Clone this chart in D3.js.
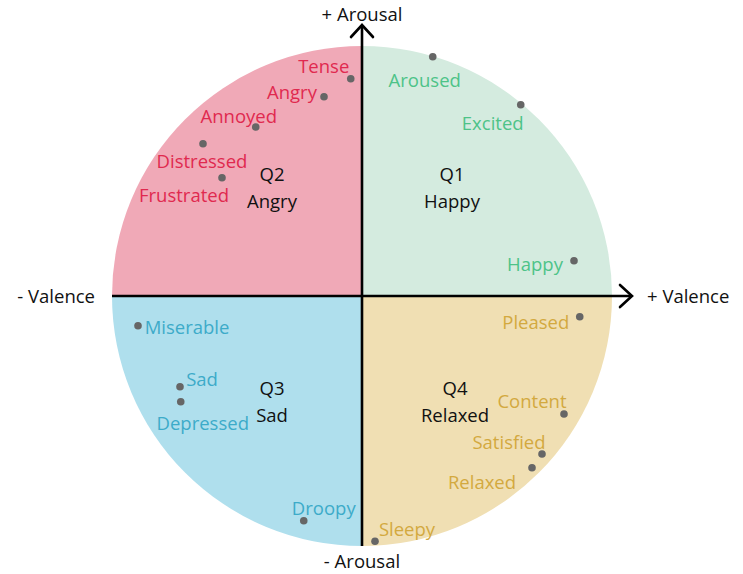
<!DOCTYPE html>
<html>
<head>
<meta charset="utf-8">
<script src="https://cdn.jsdelivr.net/npm/d3@7"></script>
<style>
  html, body { margin: 0; padding: 0; background: #ffffff; }
  svg { display: block; }
  text { font-family: "Open Sans", "Lato", sans-serif; }
</style>
</head>
<body>
<svg id="chart" width="743" height="574"></svg>
<script>
// ---- Data ----
const quadrants = ["Q1", "Q2", "Q3", "Q4"];
const quadrantNames = ["Happy", "Angry", "Sad", "Relaxed"];
const quadrantFills = ["#d4ebdf", "#f0a9b7", "#afdfed", "#f0dfb3"];
const quadrantText = ["#4dc388", "#e0294f", "#3dabc9", "#d3a93f"];

const emotions = ["Aroused", "Excited", "Happy",
                  "Tense", "Angry", "Annoyed", "Distressed", "Frustrated",
                  "Miserable", "Sad", "Depressed", "Droopy",
                  "Pleased", "Content", "Satisfied", "Relaxed", "Sleepy"];
const emotionQuadrant = [0, 0, 0, 1, 1, 1, 1, 1, 2, 2, 2, 2, 3, 3, 3, 3, 3];
const valence = [0.283, 0.635, 0.848,
                 -0.045, -0.152, -0.425, -0.636, -0.560,
                 -0.896, -0.728, -0.725, -0.233,
                 0.871, 0.808, 0.720, 0.680, 0.052];
const arousal = [0.957, 0.765, 0.141,
                 0.869, 0.797, 0.676, 0.609, 0.473,
                 -0.119, -0.363, -0.423, -0.899,
                 -0.083, -0.472, -0.632, -0.687, -0.981];

const axisLabels = ["+ Arousal", "- Arousal", "- Valence", "+ Valence"];

// ---- Layout (label offsets from dots, in px) ----
const labelDx = [-8, -28, -39, -27, -32, -17, -1, -38, 49, 22, 22, 20, -44, -32, -33, -50, 32];
const labelDy = [23, 18, 3, -13, -5, -12, 17, 17, 1, -8, 21, -13, 5, -14, -13, 14, -13];
const quadCenterV = [0.36, -0.36, -0.36, 0.372];
const quadCenterA = [0.436, 0.436, -0.419, -0.419];

const FS = 18.5;
const svg = d3.select("#chart");
const cx = 362, cy = 296, R = 250;
const x = d3.scaleLinear().domain([-1, 1]).range([cx - R, cx + R]);
const y = d3.scaleLinear().domain([-1, 1]).range([cy + R, cy - R]);

// quadrant wedges
const arc = d3.arc().innerRadius(0).outerRadius(R);
const g = svg.append("g").attr("transform", `translate(${x(0)},${y(0)})`);
const starts = [0, -Math.PI / 2, -Math.PI, Math.PI / 2];
g.selectAll("path.q").data(quadrants).join("path")
  .attr("class", "q")
  .attr("d", (d, i) => arc({ startAngle: starts[i], endAngle: starts[i] + Math.PI / 2 }))
  .attr("fill", (d, i) => quadrantFills[i]);

// axes
const ax = svg.append("g").attr("stroke", "#000").attr("stroke-width", 2.6)
  .attr("fill", "none").attr("stroke-linecap", "round").attr("stroke-linejoin", "miter");
ax.append("line").attr("x1", x(-1)).attr("y1", y(0)).attr("x2", x(1) + 20).attr("y2", y(0)).attr("stroke-linecap", "butt");
ax.append("line").attr("x1", x(0)).attr("y1", y(-1)).attr("x2", x(0)).attr("y2", y(1) - 20).attr("stroke-linecap", "butt");
ax.append("path").attr("d", `M${x(1) + 8},${y(0) - 11} L${x(1) + 20},${y(0)} L${x(1) + 8},${y(0) + 11}`);
ax.append("path").attr("d", `M${x(0) - 11},${y(1) - 9} L${x(0)},${y(1) - 21} L${x(0) + 11},${y(1) - 9}`);

// axis labels
const axPos = [[x(0), 13, "middle"], [x(0), 560, "middle"], [95, y(0) - 0.5, "end"], [647, y(0) - 0.5, "start"]];
svg.selectAll("text.ax").data(axisLabels).join("text")
  .attr("class", "ax")
  .attr("x", (d, i) => axPos[i][0]).attr("y", (d, i) => axPos[i][1])
  .attr("text-anchor", (d, i) => axPos[i][2])
  .attr("dominant-baseline", "central")
  .attr("font-size", FS).attr("fill", "#111")
  .text(d => d);

// quadrant labels
const ql = svg.selectAll("g.ql").data(quadrants).join("g").attr("class", "ql");
ql.append("text").attr("x", (d, i) => x(quadCenterV[i])).attr("y", (d, i) => y(quadCenterA[i]) - 13.3)
  .attr("text-anchor", "middle").attr("dominant-baseline", "central")
  .attr("font-size", FS).attr("fill", "#111").text(d => d);
ql.append("text").attr("x", (d, i) => x(quadCenterV[i])).attr("y", (d, i) => y(quadCenterA[i]) + 13.3)
  .attr("text-anchor", "middle").attr("dominant-baseline", "central")
  .attr("font-size", FS).attr("fill", "#111").text((d, i) => quadrantNames[i]);

// emotion dots
svg.selectAll("circle.dot").data(emotions).join("circle")
  .attr("class", "dot")
  .attr("cx", (d, i) => x(valence[i])).attr("cy", (d, i) => y(arousal[i]))
  .attr("r", 3.8).attr("fill", "#666");

// emotion labels
svg.selectAll("text.em").data(emotions).join("text")
  .attr("class", "em")
  .attr("x", (d, i) => x(valence[i]) + labelDx[i])
  .attr("y", (d, i) => y(arousal[i]) + labelDy[i])
  .attr("text-anchor", "middle").attr("dominant-baseline", "central")
  .attr("font-size", FS)
  .attr("fill", (d, i) => quadrantText[emotionQuadrant[i]])
  .text(d => d);
</script>
</body>
</html>
